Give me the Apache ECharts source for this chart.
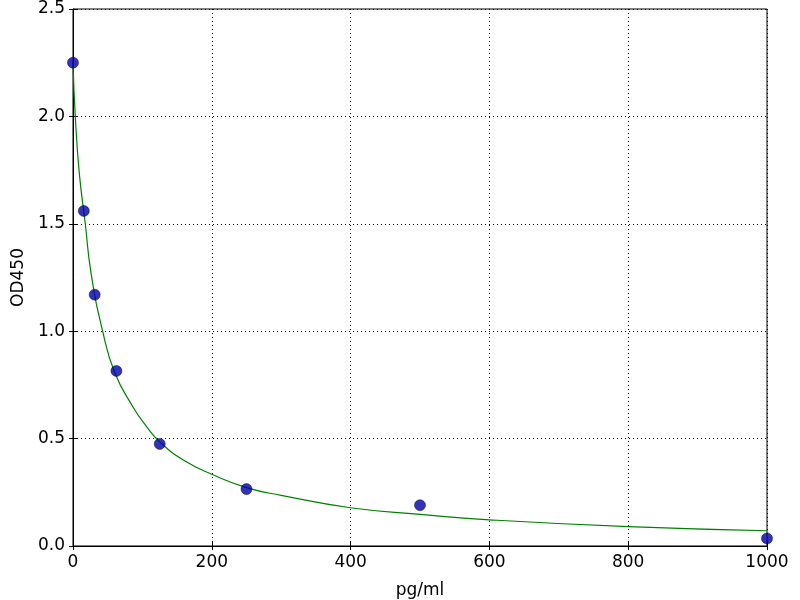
<!DOCTYPE html>
<html>
<head>
<meta charset="utf-8">
<script src="https://cdn.jsdelivr.net/npm/echarts@6/dist/echarts.min.js"></script>
<style>html,body{margin:0;padding:0;background:#fff}#c{width:800px;height:600px}</style>
</head>
<body>
<div id="c"></div>
<script>
// Measured standards
const concX = [0, 15.6, 31.25, 62.5, 125, 250, 500, 1000];
const odY   = [2.25, 1.56, 1.17, 0.815, 0.475, 0.265, 0.19, 0.035];
// Fitted curve
const curveX = [0, 3.3, 9.1, 17.7, 26, 42.7, 60.5, 86.9, 105, 125, 159, 200, 250, 300, 400, 500, 600, 800, 1000];
const curveY = [2.25, 2.0, 1.735, 1.5, 1.27, 1.0, 0.804, 0.645, 0.56, 0.485, 0.40, 0.334, 0.272, 0.236, 0.178, 0.147, 0.122, 0.09, 0.071];
const xTicks = [0, 200, 400, 600, 800, 1000];
const yTicks = [0.0, 0.5, 1.0, 1.5, 2.0, 2.5];

const FONT = 'DejaVu Sans';
const chart = echarts.init(document.getElementById('c'), null, {renderer: 'canvas'});
const pts = concX.map((x, i) => [x, odY[i]]);
const curve = curveX.map((x, i) => [x, curveY[i]]);

const gridLine = {show: true, lineStyle: {color: '#000', type: [1, 3], width: 1}};
chart.setOption({
  animation: false,
  backgroundColor: '#fff',
  grid: {left: 73, right: 33, top: 9, bottom: 54, show: true, borderColor: '#000', borderWidth: 1,
         containLabel: false, outerBoundsMode: 'none'},
  xAxis: [{
    type: 'value', min: xTicks[0], max: xTicks[xTicks.length - 1], interval: 200,
    name: 'pg/ml', nameLocation: 'middle', nameGap: 36,
    nameTextStyle: {fontFamily: FONT, fontSize: 17, color: '#000'},
    axisLine: {show: true, lineStyle: {color: '#000', width: 1}},
    axisTick: {show: true, inside: true, length: 4, lineStyle: {color: '#000'}},
    axisLabel: {fontFamily: FONT, fontSize: 17, color: '#000', margin: 8, formatter: v => String(v)},
    splitLine: gridLine
  }, {
    type: 'value', position: 'top', min: xTicks[0], max: xTicks[xTicks.length - 1], interval: 200,
    axisLine: {show: true, lineStyle: {color: '#000', width: 1}},
    axisTick: {show: true, inside: true, length: 4, lineStyle: {color: '#000'}},
    axisLabel: {show: false}, splitLine: {show: false}
  }],
  yAxis: [{
    type: 'value', min: yTicks[0], max: yTicks[yTicks.length - 1], interval: 0.5,
    name: 'OD450', nameLocation: 'middle', nameGap: 44, nameRotate: 90,
    nameTextStyle: {fontFamily: FONT, fontSize: 17, color: '#000'},
    axisLine: {show: true, lineStyle: {color: '#000', width: 1}},
    axisTick: {show: true, inside: true, length: 4, lineStyle: {color: '#000'}},
    axisLabel: {fontFamily: FONT, fontSize: 17, color: '#000', margin: 8, formatter: v => v.toFixed(1)},
    splitLine: gridLine
  }, {
    type: 'value', position: 'right', min: yTicks[0], max: yTicks[yTicks.length - 1], interval: 0.5,
    axisLine: {show: true, lineStyle: {color: '#000', width: 1}},
    axisTick: {show: true, inside: true, length: 4, lineStyle: {color: '#000'}},
    axisLabel: {show: false}, splitLine: {show: false}
  }],
  series: [{
    type: 'line', data: curve, showSymbol: false, symbol: 'none',
    smooth: 0.5,
    lineStyle: {color: '#008000', width: 1.2}, z: 2
  }, {
    type: 'scatter', data: pts, symbol: 'circle', symbolSize: 11,
    itemStyle: {color: '#0000a8', borderColor: '#000030', borderWidth: 0.6}, z: 3
  }]
});
</script>
</body>
</html>
